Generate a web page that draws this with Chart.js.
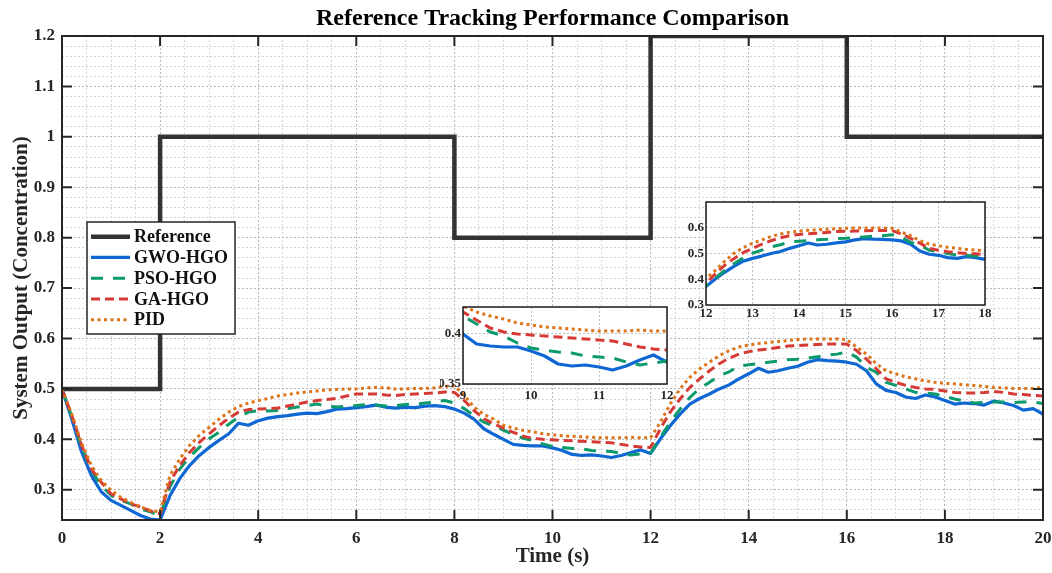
<!DOCTYPE html>
<html lang="en">
<head>
<meta charset="UTF-8">
<title>Reference Tracking Performance Comparison</title>
<script src="https://cdn.jsdelivr.net/npm/chart.js"></script>
<style>
  body { margin: 0; background: #fff; }
  #wrap { position: relative; width: 1052px; height: 573px; }
  #wrap canvas { position: absolute; }
</style>
</head>
<body>
<div id="wrap">
  <canvas id="mainChart" width="1052" height="573" style="left:0;top:0"></canvas>
  <canvas id="zoomA" width="235" height="115" style="left:440px;top:295px"></canvas>
  <canvas id="zoomB" width="315" height="135" style="left:680px;top:190px"></canvas>
</div>
<script>
// time (s), sampled every 0.2 s
const time = [
  0, 0.2, 0.4, 0.6, 0.8, 1, 1.2, 1.4, 1.6, 1.8,
  2, 2.2, 2.4, 2.6, 2.8, 3, 3.2, 3.4, 3.6, 3.8,
  4, 4.2, 4.4, 4.6, 4.8, 5, 5.2, 5.4, 5.6, 5.8,
  6, 6.2, 6.4, 6.6, 6.8, 7, 7.2, 7.4, 7.6, 7.8,
  8, 8.2, 8.4, 8.6, 8.8, 9, 9.2, 9.4, 9.6, 9.8,
  10, 10.2, 10.4, 10.6, 10.8, 11, 11.2, 11.4, 11.6, 11.8,
  12, 12.2, 12.4, 12.6, 12.8, 13, 13.2, 13.4, 13.6, 13.8,
  14, 14.2, 14.4, 14.6, 14.8, 15, 15.2, 15.4, 15.6, 15.8,
  16, 16.2, 16.4, 16.6, 16.8, 17, 17.2, 17.4, 17.6, 17.8,
  18, 18.2, 18.4, 18.6, 18.8, 19, 19.2, 19.4, 19.6, 19.8,
  20
];

// reference setpoint (held until the next change)
const refTime = [0, 2, 8, 12, 16, 20];
const refValue = [0.5, 1, 0.8, 1.2, 1, 1];

const gwoHgo = [
  0.500, 0.440, 0.375, 0.328, 0.296, 0.279, 0.269, 0.259, 0.249, 0.242,
  0.240, 0.288, 0.322, 0.348, 0.368, 0.384, 0.398, 0.411, 0.432, 0.428,
  0.437, 0.442, 0.445, 0.447, 0.450, 0.452, 0.451, 0.455, 0.460, 0.461,
  0.463, 0.465, 0.468, 0.464, 0.462, 0.464, 0.463, 0.466, 0.467, 0.465,
  0.460, 0.452, 0.440, 0.421, 0.410, 0.400, 0.390, 0.388, 0.387, 0.387,
  0.383, 0.378, 0.370, 0.368, 0.369, 0.367, 0.364, 0.368, 0.374, 0.379,
  0.372, 0.401, 0.427, 0.450, 0.470, 0.481, 0.490, 0.500, 0.508, 0.520,
  0.530, 0.541, 0.533, 0.536, 0.541, 0.545, 0.553, 0.558, 0.556, 0.555,
  0.553, 0.549, 0.536, 0.510, 0.497, 0.493, 0.484, 0.481, 0.488, 0.484,
  0.477, 0.470, 0.472, 0.471, 0.468, 0.476, 0.472, 0.467, 0.458, 0.461,
  0.450
];

const psoHgo = [
  0.500, 0.445, 0.385, 0.338, 0.308, 0.289, 0.279, 0.272, 0.262, 0.256,
  0.249, 0.306, 0.341, 0.365, 0.384, 0.401, 0.414, 0.430, 0.444, 0.454,
  0.457, 0.456, 0.457, 0.461, 0.464, 0.467, 0.470, 0.466, 0.464, 0.466,
  0.467, 0.469, 0.468, 0.466, 0.467, 0.469, 0.470, 0.472, 0.474, 0.477,
  0.472, 0.461, 0.447, 0.434, 0.427, 0.418, 0.410, 0.402, 0.398, 0.391,
  0.386, 0.384, 0.382, 0.381, 0.378, 0.377, 0.376, 0.372, 0.369, 0.371,
  0.373, 0.404, 0.434, 0.460, 0.483, 0.501, 0.513, 0.526, 0.534, 0.545,
  0.548, 0.550, 0.553, 0.555, 0.558, 0.559, 0.561, 0.564, 0.567, 0.569,
  0.573, 0.563, 0.543, 0.533, 0.513, 0.507, 0.500, 0.493, 0.492, 0.490,
  0.485, 0.480, 0.476, 0.472, 0.473, 0.474, 0.474, 0.473, 0.474, 0.474,
  0.471
];

const gaHgo = [
  0.500, 0.447, 0.388, 0.341, 0.315, 0.292, 0.282, 0.272, 0.266, 0.258,
  0.252, 0.315, 0.348, 0.374, 0.394, 0.411, 0.427, 0.442, 0.454, 0.459,
  0.460, 0.461, 0.462, 0.466, 0.470, 0.474, 0.477, 0.479, 0.481, 0.486,
  0.490, 0.490, 0.490, 0.488, 0.487, 0.489, 0.490, 0.491, 0.492, 0.494,
  0.493, 0.477, 0.457, 0.441, 0.431, 0.422, 0.414, 0.406, 0.402, 0.400,
  0.399, 0.398, 0.397, 0.396, 0.395, 0.394, 0.393, 0.390, 0.387, 0.385,
  0.384, 0.421, 0.454, 0.480, 0.503, 0.520, 0.536, 0.550, 0.561, 0.569,
  0.574, 0.577, 0.579, 0.582, 0.585, 0.586, 0.587, 0.588, 0.589, 0.589,
  0.589, 0.576, 0.559, 0.540, 0.520, 0.513, 0.507, 0.503, 0.500, 0.499,
  0.496, 0.493, 0.492, 0.492, 0.493, 0.495, 0.493, 0.490, 0.489, 0.487,
  0.486
];

const pid = [
  0.500, 0.450, 0.392, 0.348, 0.318, 0.299, 0.285, 0.275, 0.266, 0.259,
  0.256, 0.328, 0.361, 0.388, 0.408, 0.424, 0.440, 0.454, 0.465, 0.472,
  0.477, 0.481, 0.486, 0.489, 0.492, 0.494, 0.496, 0.498, 0.499, 0.500,
  0.500, 0.502, 0.503, 0.502, 0.500, 0.500, 0.501, 0.501, 0.502, 0.505,
  0.506, 0.487, 0.464, 0.450, 0.440, 0.428, 0.422, 0.418, 0.415, 0.411,
  0.409, 0.407, 0.406, 0.405, 0.404, 0.403, 0.403, 0.403, 0.404, 0.403,
  0.403, 0.434, 0.470, 0.500, 0.523, 0.540, 0.553, 0.566, 0.576, 0.583,
  0.587, 0.590, 0.592, 0.594, 0.596, 0.598, 0.599, 0.599, 0.599, 0.599,
  0.598, 0.583, 0.569, 0.550, 0.536, 0.530, 0.524, 0.520, 0.516, 0.513,
  0.511, 0.510, 0.508, 0.507, 0.505, 0.503, 0.502, 0.501, 0.501, 0.501,
  0.503
];

// zoom windows: [xmin, xmax], [ymin, ymax], labelled y ticks
const zoomA = { x: [9, 12], y: [0.35, 0.427], yTicks: [0.35, 0.4] };
const zoomB = { x: [12, 18], y: [0.3, 0.7], yTicks: [0.3, 0.4, 0.5, 0.6] };

const SERIF = '"Liberation Serif", "Times New Roman", serif';
const INK = '#262626';

const isTenth = v => Math.abs(v * 10 - Math.round(v * 10)) < 1e-6;
const pts = ys => time.map((t, i) => ({ x: t, y: ys[i] }));

// keep the tick labels from pushing the plot area inwards
const noLabelPadding = s => { s.paddingLeft = 0; s.paddingRight = 0; s.paddingTop = 0; s.paddingBottom = 0; };

function makeDatasets() {
    const common = { pointRadius: 0, fill: false, tension: 0, borderCapStyle: 'butt', borderJoinStyle: 'round' };
    return [
        { ...common, label: 'Reference', data: refTime.map((t, i) => ({ x: t, y: refValue[i] })),
          borderColor: '#333333', borderWidth: 4.5, stepped: 'before', order: 5, borderJoinStyle: 'miter' },
        { ...common, label: 'GWO-HGO', data: pts(gwoHgo), borderColor: '#0f67d4', borderWidth: 3.2, order: 4 },
        { ...common, label: 'PSO-HGO', data: pts(psoHgo), borderColor: '#0c9a6c', borderWidth: 3, borderDash: [12, 10], order: 3 },
        { ...common, label: 'GA-HGO', data: pts(gaHgo), borderColor: '#d63a36', borderWidth: 3, borderDash: [9, 5], order: 2 },
        { ...common, label: 'PID', data: pts(pid), borderColor: '#dc7418', borderWidth: 3, borderDash: [3, 3.5], order: 1 }
    ];
}

// box, inner tick marks and the title
const axesFrame = {
    id: 'axesFrame',
    afterDatasetsDraw(chart) {
        const { ctx, chartArea: a, scales: { x, y } } = chart;
        ctx.save();
        ctx.strokeStyle = INK;
        ctx.lineWidth = 2;
        ctx.beginPath();
        x.ticks.forEach(t => {
            if (t.value % 2 !== 0) return;
            const px = x.getPixelForValue(t.value);
            ctx.moveTo(px, a.bottom); ctx.lineTo(px, a.bottom - 10);
            ctx.moveTo(px, a.top); ctx.lineTo(px, a.top + 10);
        });
        y.ticks.forEach(t => {
            if (!isTenth(t.value)) return;
            const py = y.getPixelForValue(t.value);
            ctx.moveTo(a.left, py); ctx.lineTo(a.left + 10, py);
            ctx.moveTo(a.right, py); ctx.lineTo(a.right - 10, py);
        });
        ctx.stroke();
        ctx.strokeRect(a.left, a.top, a.right - a.left, a.bottom - a.top);

        ctx.fillStyle = '#000';
        ctx.font = 'bold 24px ' + SERIF;
        ctx.textAlign = 'center';
        ctx.textBaseline = 'middle';
        ctx.fillText('Reference Tracking Performance Comparison', (a.left + a.right) / 2, 19);
        ctx.restore();
    }
};

// legend box in the upper left
const legendBox = {
    id: 'legendBox',
    afterDraw(chart) {
        const { ctx } = chart;
        const x0 = 87, y0 = 222, w = 148, h = 112;
        ctx.save();
        ctx.fillStyle = '#fff';
        ctx.fillRect(x0, y0, w, h);
        ctx.strokeStyle = INK;
        ctx.lineWidth = 1.5;
        ctx.strokeRect(x0, y0, w, h);
        ctx.font = 'bold 18px ' + SERIF;
        ctx.textBaseline = 'middle';
        chart.data.datasets.forEach((ds, i) => {
            const yy = y0 + 14.7 + i * 20.75;
            ctx.beginPath();
            ctx.setLineDash(ds.borderDash || []);
            ctx.lineWidth = ds.borderWidth;
            ctx.strokeStyle = ds.borderColor;
            ctx.lineCap = 'butt';
            ctx.moveTo(x0 + 4, yy);
            ctx.lineTo(x0 + 43, yy);
            ctx.stroke();
            ctx.setLineDash([]);
            ctx.fillStyle = '#111';
            ctx.fillText(ds.label, x0 + 47, yy + 1);
        });
        ctx.restore();
    }
};

new Chart(document.getElementById('mainChart'), {
    type: 'line',
    data: { datasets: makeDatasets() },
    options: {
        responsive: false,
        animation: false,
        events: [],
        layout: { padding: { top: 36, right: 9, left: 0, bottom: 0 } },
        plugins: { legend: { display: false }, tooltip: { enabled: false } },
        scales: {
            x: {
                type: 'linear', min: 0, max: 20,
                afterFit: s => { s.height = 53; noLabelPadding(s); },
                ticks: {
                    stepSize: 0.5, autoSkip: false, maxRotation: 0, padding: 8, color: INK,
                    font: { family: SERIF, size: 17, weight: 'bold' },
                    callback: v => (v % 2 === 0 ? String(v) : '')
                },
                grid: { drawTicks: false, lineWidth: 1, color: c => (c.tick && c.tick.value % 2 === 0 ? '#b8b8b8' : '#d6d6d6') },
                border: { display: false, dash: [2, 2] },
                title: { display: true, text: 'Time (s)', color: INK, padding: { top: 0, bottom: 4 },
                         font: { family: SERIF, size: 21, weight: 'bold' } }
            },
            y: {
                type: 'linear', min: 0.24, max: 1.2,
                afterFit: s => { s.width = 62; noLabelPadding(s); },
                ticks: {
                    stepSize: 0.02, autoSkip: false, padding: 7, color: INK,
                    font: { family: SERIF, size: 17, weight: 'bold' },
                    callback: v => (isTenth(v) ? String(v) : '')
                },
                grid: { drawTicks: false, lineWidth: 1, color: c => (c.tick && isTenth(c.tick.value) ? '#b8b8b8' : '#d6d6d6') },
                border: { display: false, dash: [2, 2] },
                title: { display: true, text: 'System Output (Concentration)', color: INK, padding: { top: 9 },
                         font: { family: SERIF, size: 21, weight: 'bold' } }
            }
        }
    },
    plugins: [axesFrame, legendBox]
});

// white plot area and black box for the zoom insets
const insetFrame = {
    id: 'insetFrame',
    beforeDraw(chart) {
        const { ctx, chartArea: a } = chart;
        ctx.save();
        ctx.fillStyle = '#fff';
        ctx.fillRect(a.left, a.top, a.right - a.left, a.bottom - a.top);
        ctx.restore();
    },
    afterDatasetsDraw(chart) {
        const { ctx, chartArea: a } = chart;
        ctx.save();
        ctx.strokeStyle = '#1a1a1a';
        ctx.lineWidth = 1.5;
        ctx.strokeRect(a.left, a.top, a.right - a.left, a.bottom - a.top);
        ctx.restore();
    }
};

function makeInset(id, win, box) {
    const tickFont = { family: SERIF, size: 13, weight: 'bold' };
    new Chart(document.getElementById(id), {
        type: 'line',
        data: { datasets: makeDatasets().slice(1) },
        options: {
            responsive: false,
            animation: false,
            events: [],
            layout: { padding: { top: box.top, right: box.right, left: 0, bottom: 0 } },
            plugins: { legend: { display: false }, tooltip: { enabled: false } },
            scales: {
                x: {
                    type: 'linear', min: win.x[0], max: win.x[1],
                    afterFit: s => { s.height = box.bottom; noLabelPadding(s); },
                    ticks: { stepSize: 1, padding: box.xPad, color: INK, font: tickFont, maxRotation: 0 },
                    grid: { drawTicks: false, color: '#c2c2c2' },
                    border: { display: false, dash: [2, 2] }
                },
                y: {
                    type: 'linear', min: win.y[0], max: win.y[1],
                    afterFit: s => { s.width = box.left; noLabelPadding(s); },
                    afterBuildTicks: s => { s.ticks = win.yTicks.map(v => ({ value: v })); },
                    ticks: { padding: 2, color: INK, font: tickFont, callback: v => String(v) },
                    grid: { drawTicks: false, color: '#c2c2c2' },
                    border: { display: false, dash: [2, 2] }
                }
            }
        },
        plugins: [insetFrame]
    });
}

makeInset('zoomA', zoomA, { left: 23, top: 12, right: 8, bottom: 26, xPad: 4 });
makeInset('zoomB', zoomB, { left: 26, top: 12, right: 10, bottom: 20, xPad: 1 });
</script>
</body>
</html>
